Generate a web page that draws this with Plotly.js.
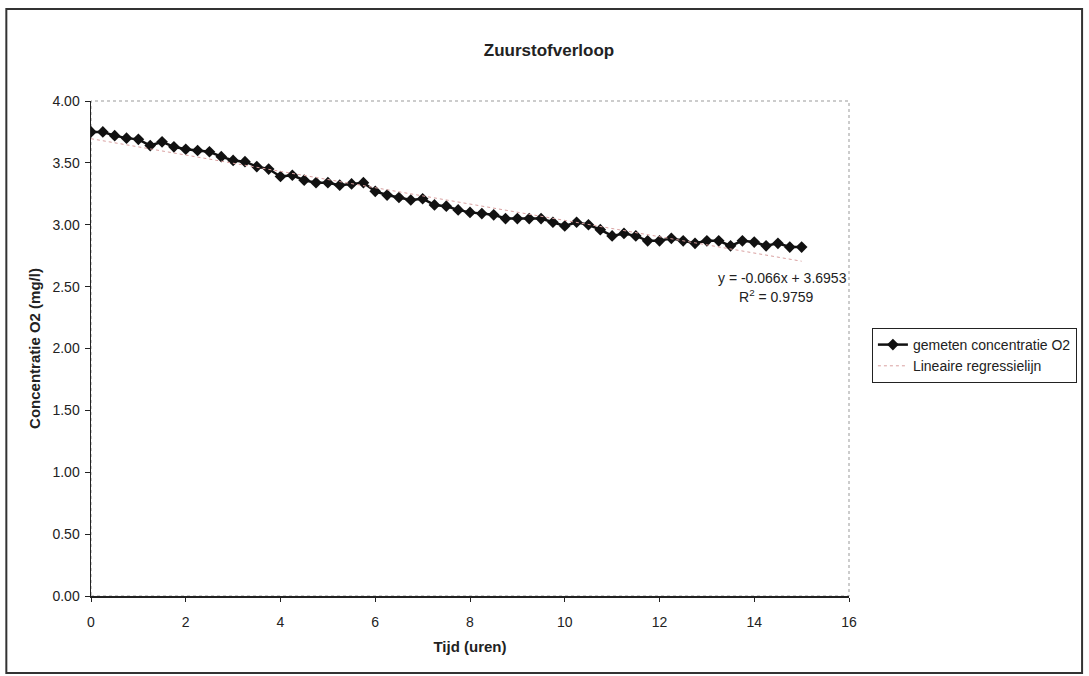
<!DOCTYPE html>
<html>
<head>
<meta charset="utf-8">
<script src="https://cdn.plot.ly/plotly-3.0.1.min.js"></script>
<style>
html,body{margin:0;padding:0;background:#ffffff;}
#chart{width:1089px;height:676px;}
</style>
</head>
<body>
<div id="chart"></div>
<script>
// Tijd (uren)
const tijd = [0,0.25,0.5,0.75,1,1.25,1.5,1.75,2,2.25,2.5,2.75,3,3.25,3.5,3.75,4,4.25,4.5,4.75,5,5.25,5.5,5.75,6,6.25,6.5,6.75,7,7.25,7.5,7.75,8,8.25,8.5,8.75,9,9.25,9.5,9.75,10,10.25,10.5,10.75,11,11.25,11.5,11.75,12,12.25,12.5,12.75,13,13.25,13.5,13.75,14,14.25,14.5,14.75,15];
// gemeten concentratie O2 (mg/l)
const concentratie = [3.75,3.75,3.72,3.70,3.69,3.64,3.67,3.63,3.61,3.60,3.59,3.55,3.52,3.51,3.47,3.45,3.39,3.40,3.36,3.34,3.34,3.32,3.33,3.34,3.27,3.24,3.22,3.20,3.21,3.16,3.15,3.12,3.10,3.09,3.08,3.05,3.05,3.05,3.05,3.02,2.99,3.02,3.00,2.96,2.91,2.93,2.91,2.87,2.87,2.89,2.87,2.85,2.87,2.87,2.83,2.87,2.86,2.83,2.85,2.82,2.82];
// regressie
const helling = -0.066;
const snijpunt = 3.6953;
const rKwadraat = 0.9759;
const regX = [0, 15];
const regY = regX.map(x => snijpunt + helling * x);

const xTicks = [0,2,4,6,8,10,12,14,16];
const yTicks = [0,0.5,1,1.5,2,2.5,3,3.5,4];

const W = 1089, H = 676;
const mL = 91, mR = W - 852, mT = 101, mB = H - 596;
const pw = W - mL - mR, ph = H - mT - mB;
const px = v => (v - mL) / pw;
const py = v => (H - mB - v) / ph;

const font = 'Liberation Sans, Arial, sans-serif';
const ink = '#222222';

const traces = [
  {
    x: tijd, y: concentratie, type: 'scatter', mode: 'lines+markers',
    name: 'gemeten concentratie O2',
    line: {color: '#111111', width: 2.5},
    marker: {symbol: 'diamond', size: 9, color: '#111111'}
  },
  {
    x: regX, y: regY, type: 'scatter', mode: 'lines',
    name: 'Lineaire regressielijn',
    line: {color: '#d9a0a0', width: 1, dash: 'dot'}
  }
];

const layout = {
  width: W, height: H,
  margin: {l: mL, r: mR, t: mT, b: mB, pad: 0},
  paper_bgcolor: '#ffffff', plot_bgcolor: '#ffffff',
  font: {family: font, size: 14, color: ink},
  title: {text: '<b>Zuurstofverloop</b>', font: {family: font, size: 17, color: ink},
          x: 549 / W, xref: 'container', y: 1 - 50/H, yref: 'container', xanchor: 'center', yanchor: 'middle'},
  xaxis: {
    range: [0, 16], tickvals: xTicks, ticktext: xTicks.map(String),
    showgrid: false, zeroline: false, showline: true, linecolor: ink, linewidth: 1.5,
    ticks: 'outside', ticklen: 4, tickcolor: ink, tickfont: {size: 14},
    ticklabelstandoff: 9,
    title: {text: '<b>Tijd (uren)</b>', font: {size: 15}, standoff: 12}
  },
  yaxis: {
    range: [0, 4], tickvals: yTicks, ticktext: yTicks.map(v => v.toFixed(2)),
    showgrid: false, zeroline: false, showline: true, linecolor: ink, linewidth: 1.5,
    ticks: 'outside', ticklen: 5, tickcolor: ink, tickfont: {size: 14},
    ticklabelstandoff: 2,
    title: {text: '<b>Concentratie O2 (mg/l)</b>', font: {size: 15}, standoff: 8}
  },
  legend: {
    x: px(875), y: py(328), xanchor: 'left', yanchor: 'top',
    bordercolor: ink, borderwidth: 1, bgcolor: '#ffffff',
    font: {size: 14, color: ink}, itemwidth: 30, tracegroupgap: 0
  },
  shapes: [
    {type: 'rect', xref: 'paper', yref: 'paper', x0: 0, x1: 1, y0: 0, y1: 1,
     line: {color: '#999999', width: 1, dash: 'dot'}, layer: 'below'},
    {type: 'rect', xref: 'paper', yref: 'paper', x0: px(6), x1: px(1086), y0: py(673), y1: py(9),
     line: {color: '#333333', width: 2}}
  ],
  annotations: [
    {x: 16, y: 2.57, xref: 'x', yref: 'y', xanchor: 'right', yanchor: 'middle', showarrow: false,
     text: 'y = ' + helling.toFixed(3) + 'x + ' + snijpunt.toFixed(4), font: {size: 14, color: ink}},
    {x: 14.48, y: 2.424, xref: 'x', yref: 'y', xanchor: 'center', yanchor: 'middle', showarrow: false,
     text: 'R<sup>2</sup> = ' + rKwadraat.toFixed(4), font: {size: 14, color: ink}}
  ]
};

Plotly.newPlot('chart', traces, layout, {displayModeBar: false, staticPlot: true});
</script>
</body>
</html>
